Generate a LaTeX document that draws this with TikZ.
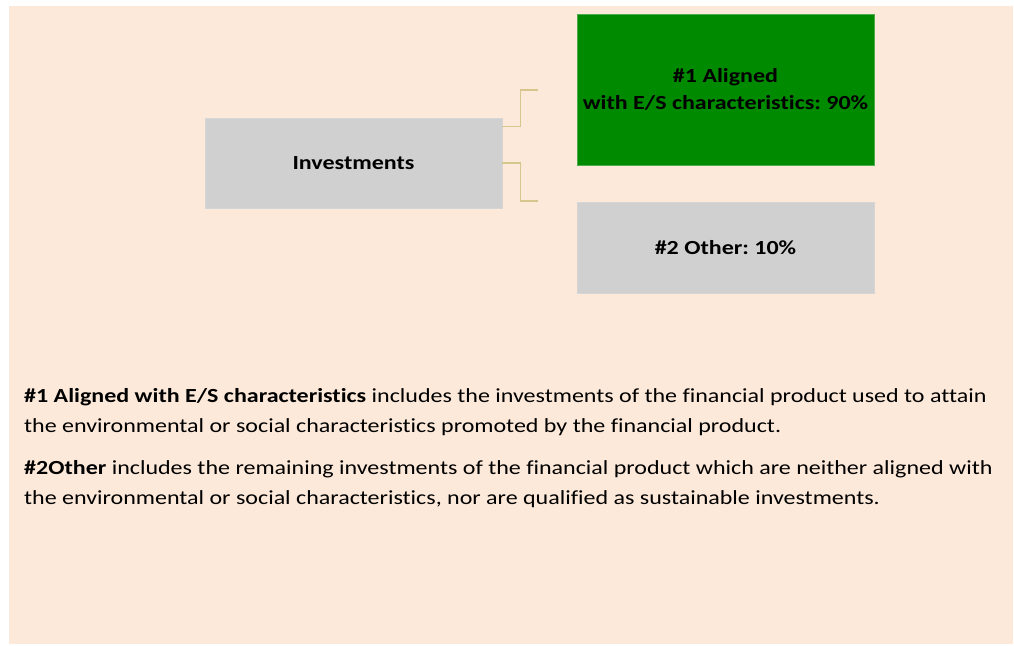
\documentclass[tikz,border=0pt]{standalone}
\usepackage{fontspec}
\setmainfont{Carlito}[FakeStretch=1.2, Ligatures=NoCommon]
\frenchspacing
\definecolor{peach}{RGB}{253,233,217}
\definecolor{boxgreen}{RGB}{0,138,0}
\definecolor{boxgrey}{RGB}{208,208,208}
\definecolor{conncol}{RGB}{214,198,140}
\begin{document}
\begin{tikzpicture}[x=1pt,y=-1pt,
  box/.style={rectangle, minimum width=297pt, inner sep=0pt, align=center, font=\fontsize{20}{27}\selectfont\bfseries\frenchspacing},
  greybox/.style={box, fill=boxgrey, draw=boxgrey!90!white},
  greenbox/.style={box, fill=boxgreen, draw=boxgreen!70!white},
  conn/.style={draw=conncol, line width=1.2pt},
  body/.style={anchor=base west, inner sep=0pt, font=\fontsize{20}{24}\selectfont\frenchspacing}]
\useasboundingbox (0,0) rectangle (1014,645);
\fill[peach] (9,6) rectangle (1013,644);
\node[greybox, minimum height=90pt] (inv) at (353.5,163) {Investments};
\node[greenbox, minimum height=151pt] (aligned) at (725.5,89.5) {\#1 Aligned\\with E/S characteristics: 90\%};
\node[greybox, minimum height=91pt] (other) at (725.5,247.5) {\#2 Other: 10\%};
\coordinate (c1) at (538,90);
\coordinate (c2) at (538,201);
\draw[conn] ([yshift=-9pt]inv.north east) -- ++(18,0) |- (c1);
\draw[conn] (inv.east) -- ++(18,0) |- (c2);
\node[body] (t1) at (24,402) {\textbf{\#1 Aligned with E/S characteristics} includes the investments of the financial product used to attain};
\node[body] (t2) at (24,432) {the environmental or social characteristics promoted by the financial product.};
\node[body] (t3) at (24,474) {\textbf{\#2Other} includes the remaining investments of the financial product which are neither aligned with};
\node[body] (t4) at (24,504) {the environmental or social characteristics, nor are qualified as sustainable investments.};
\end{tikzpicture}
\end{document}
